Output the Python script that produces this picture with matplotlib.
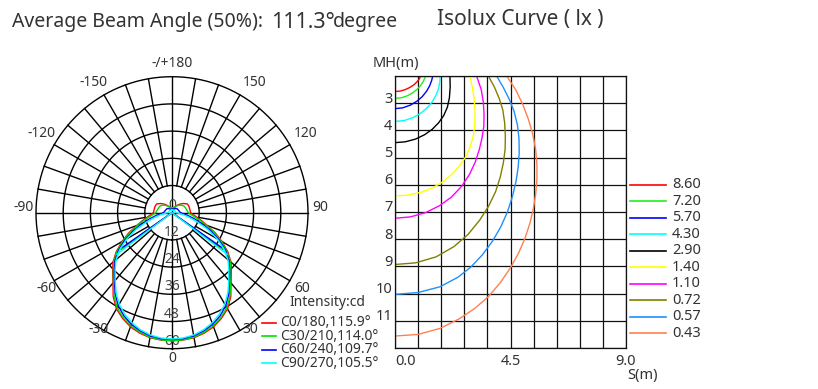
import numpy as np
import matplotlib
matplotlib.use('Agg')
import matplotlib.pyplot as plt
from matplotlib.lines import Line2D

plt.rcParams['font.family'] = ['Noto Sans', 'DejaVu Sans']
TXT = '#333333'

# ---- polar intensity data (cd), gamma angle one side, mirrored on the other
gamma = [0, 5, 10, 15, 20, 25, 30, 35, 40, 45, 50, 55, 60, 65, 70, 75, 80, 85, 90,
         100, 110, 120, 130, 140, 150, 165, 180]
i_c0 = [56.5, 56.4, 56, 55, 53.6, 51.5, 49, 45.2, 40.5, 37, 34, 30, 25.5, 21, 16.5, 13.5, 11, 9.3, 8.2,
        8.0, 8.0, 7.8, 6.3, 4.8, 3.4, 2.3, 2.0]
i_c30 = [56.5, 56.3, 55.8, 54.6, 53.1, 51, 48.4, 44.6, 40.2, 36.6, 33.5, 29.5, 25, 20.4, 16, 12.7, 10, 8.2, 7.2,
         6.6, 6.3, 6.0, 5.2, 4.2, 3.2, 2.2, 2.0]
i_c60 = [56, 55.8, 55.2, 54, 52.4, 50.2, 47.4, 43.7, 39.5, 36, 32.8, 28.8, 24, 18.8, 14, 10, 7, 5, 3.8,
         3.3, 3.1, 2.9, 2.8, 2.4, 1.9, 1.6, 1.5]
i_c90 = [55.7, 55.5, 54.8, 53.5, 51.7, 49.4, 46.6, 43, 39, 35.5, 32.2, 28, 23, 17.5, 12, 7.8, 5, 3, 2.0,
         1.6, 1.5, 1.4, 1.4, 1.3, 1.3, 1.2, 1.2]
cone_gamma = [54, 54.5, 55, 53]
cone_i = [27.5, 28, 26.5, 30.5]
curve_names = ['C0/180,115.9°', 'C30/210,114.0°', 'C60/240,109.7°', 'C90/270,105.5°']
curve_colors = ['#ff0000', '#00e000', '#0000ff', '#00ffff']
ring_values = [0, 12, 24, 36, 48, 60]
angle_labels = ['-/+180', '150', '120', '90', '60', '30', '0', '-30', '-60', '-90', '-120', '-150']

# ---- isolux data: levels and curve points (S, MH)
lux_levels = ['8.60', '7.20', '5.70', '4.30', '2.90', '1.40', '1.10', '0.72', '0.57', '0.43']
lux_colors = ['#ff0000', '#22ee22', '#0000ff', '#00ffff', '#000000',
              '#ffff00', '#ff00ff', '#808000', '#1e90ff', '#ff8050']
lux_s = [
    [0, 0.2, 0.4, 0.58, 0.74, 0.86, 0.95, 1.0],
    [0, 0.25, 0.5, 0.7, 0.87, 1.0, 1.1, 1.16, 1.19],
    [0, 0.3, 0.6, 0.85, 1.06, 1.23, 1.35, 1.43, 1.47],
    [0, 0.35, 0.7, 1.0, 1.25, 1.45, 1.6, 1.7, 1.75, 1.76],
    [0, 0.4, 0.8, 1.15, 1.45, 1.7, 1.9, 2.04, 2.12, 2.15, 2.14],
    [0, 0.5, 1.0, 1.45, 1.85, 2.2, 2.5, 2.75, 2.93, 3.05, 3.11, 3.12, 3.09, 3.02, 2.92],
    [0, 0.6, 1.2, 1.75, 2.2, 2.6, 2.9, 3.12, 3.28, 3.39, 3.46, 3.47, 3.44, 3.36, 3.18],
    [0, 0.8, 1.6, 2.3, 2.85, 3.3, 3.65, 3.92, 4.1, 4.22, 4.29, 4.3, 4.27, 4.2, 4.07, 3.88, 3.64],
    [0, 0.9, 1.75, 2.45, 2.95, 3.4, 3.8, 4.12, 4.38, 4.57, 4.71, 4.8, 4.84, 4.83, 4.77, 4.64, 4.45, 4.22, 3.96],
    [0, 0.9, 1.75, 2.5, 3.1, 3.64, 4.1, 4.5, 4.82, 5.07, 5.26, 5.39, 5.48, 5.53, 5.53, 5.48, 5.37, 5.2,
     4.98, 4.7, 4.35],
]
lux_mh = [
    [2.57, 2.555, 2.5, 2.42, 2.32, 2.21, 2.1, 2.0],
    [2.82, 2.8, 2.72, 2.61, 2.48, 2.35, 2.2, 2.08, 2.0],
    [3.2, 3.17, 3.07, 2.93, 2.76, 2.56, 2.36, 2.16, 2.0],
    [3.67, 3.64, 3.53, 3.37, 3.17, 2.95, 2.7, 2.45, 2.2, 2.0],
    [4.45, 4.42, 4.32, 4.16, 3.96, 3.72, 3.45, 3.15, 2.8, 2.4, 2.0],
    [6.41, 6.38, 6.28, 6.12, 5.9, 5.63, 5.32, 4.98, 4.6, 4.2, 3.8, 3.35, 2.9, 2.45, 2.0],
    [7.23, 7.18, 7.02, 6.76, 6.45, 6.05, 5.62, 5.18, 4.72, 4.28, 3.85, 3.4, 2.95, 2.5, 2.0],
    [8.93, 8.87, 8.65, 8.27, 7.82, 7.3, 6.78, 6.25, 5.72, 5.2, 4.7, 4.2, 3.7, 3.25, 2.85, 2.42, 2.0],
    [10.03, 9.96, 9.75, 9.4, 9.03, 8.58, 8.07, 7.55, 7.0, 6.45, 5.9, 5.35, 4.8, 4.3, 3.8, 3.3, 2.85,
     2.42, 2.0],
    [11.56, 11.5, 11.28, 10.93, 10.55, 10.11, 9.6, 9.05, 8.5, 7.95, 7.4, 6.88, 6.35, 5.8, 5.25, 4.7,
     4.15, 3.6, 3.05, 2.5, 2.0],
]

W, H = 818, 389
fig = plt.figure(figsize=(W / 100, H / 100), dpi=100)


def fx(px):
    return px / W


def fy(py):
    return 1 - py / H


# ---------------- titles
fig.text(fx(12), fy(27.5), 'Average Beam Angle (50%):', fontsize=14, color=TXT, va='baseline')
fig.text(fx(271), fy(27.5), '111.3°', fontsize=15.5, color=TXT, va='baseline')
fig.text(fx(333), fy(27.5), 'degree', fontsize=14, color=TXT, va='baseline')
fig.text(fx(437), fy(25), 'Isolux Curve ( lx )', fontsize=15, color=TXT, va='baseline')

# ---------------- polar chart
cx, cy, R = 172, 212.7, 136
ax = fig.add_axes([fx(cx - R), 1 - (cy + R) / H, 2 * R / W, 2 * R / H], projection='polar')
ax.set_theta_zero_location('S')
ax.set_ylim(0, 60)
ax.grid(False)
ax.set_xticks([])
ax.set_yticks([])
ax.spines['polar'].set_visible(False)

t = np.linspace(0, 2 * np.pi, 721)
for rv in ring_values[1:]:
    ax.plot(t, np.full_like(t, rv), color='k', lw=1.0, clip_on=False, zorder=1)
for a in range(0, 360, 10):
    r0 = 0 if a % 90 == 0 else 12
    ax.plot([np.deg2rad(a)] * 2, [r0, 60], color='k', lw=1.0, clip_on=False, zorder=1)

for rv in ring_values:
    ax.text(0, rv, str(rv), ha='center', va='bottom', fontsize=10, color='#444444', zorder=2)

angle_pos = [(180, 65.7), (147.5, 68.2), (120.8, 68.4), (92, 65.3), (59.8, 66.2), (33.7, 62.0),
             (0, 64.2), (-32.2, 61.0), (-58.9, 64.5), (-92, 65.6), (-121.4, 67.3), (-148.9, 67.2)]
for lab, (th, rr) in zip(angle_labels, angle_pos):
    ax.text(np.deg2rad(th), rr, lab, ha='center', va='center', fontsize=10, color=TXT)

g = np.array(gamma, dtype=float)
theta = np.deg2rad(np.concatenate([-g[::-1], g[1:]]))
for vals, cg, ci, col in zip([i_c0, i_c30, i_c60, i_c90], cone_gamma, cone_i, curve_colors):
    v = np.array(vals)
    ax.plot(theta, np.concatenate([v[::-1], v[1:]]), color=col, lw=1.0, zorder=3)
    ax.plot(np.deg2rad([-cg, -cg, cg, cg]), [ci, 0, 0, ci], color=col, lw=1.0, zorder=3)

# polar legend
fig.text(fx(289), fy(303), 'Intensity:cd', fontsize=10, color=TXT, va='center')
for i, (nm, col) in enumerate(zip(curve_names, curve_colors)):
    yy = fy(322.5 + i * 13.6)
    fig.add_artist(Line2D([fx(262), fx(276)], [yy, yy], color=col, lw=1.2))
    fig.text(fx(280), yy, nm, fontsize=10, color=TXT, va='center')

# ---------------- isolux chart
bx = fig.add_axes([fx(395), fy(348), fx(231), 272 / H])
bx.set_xlim(0, 9)
bx.set_ylim(12, 2)
bx.set_xticks(np.arange(0, 9.01, 0.9))
bx.set_yticks(range(2, 13))
bx.set_xticklabels([])
bx.set_yticklabels([])
bx.tick_params(length=0)
bx.grid(True, color='#111111', lw=0.9)
for sp in bx.spines.values():
    sp.set_color('#111111')
    sp.set_linewidth(0.9)

for xs, ys, col in zip(lux_s, lux_mh, lux_colors):
    bx.plot(xs, ys, color=col, lw=1.0)

for v in range(3, 12):
    bx.text(-0.1, v - 0.15, str(v), ha='right', va='center', fontsize=10.5, color=TXT)
bx.text(0, 12.5, '0.0', ha='left', va='center', fontsize=10.5, color=TXT)
bx.text(4.5, 12.5, '4.5', ha='center', va='center', fontsize=10.5, color=TXT)
bx.text(9.0, 12.5, '9.0', ha='center', va='center', fontsize=10.5, color=TXT)
fig.text(fx(396), fy(64), 'MH(m)', fontsize=10.5, color=TXT, ha='center', va='center')
fig.text(fx(627), fy(375), 'S(m)', fontsize=10.5, color=TXT, ha='left', va='center')

# isolux legend
for i, (lv, col) in enumerate(zip(lux_levels, lux_colors)):
    yy = fy(185 + i * 16.47)
    fig.add_artist(Line2D([fx(630), fx(666)], [yy, yy], color=col, lw=1.2))
    fig.text(fx(672), yy, lv, fontsize=10.5, color=TXT, va='center')

fig.savefig('out.png', dpi=100)
